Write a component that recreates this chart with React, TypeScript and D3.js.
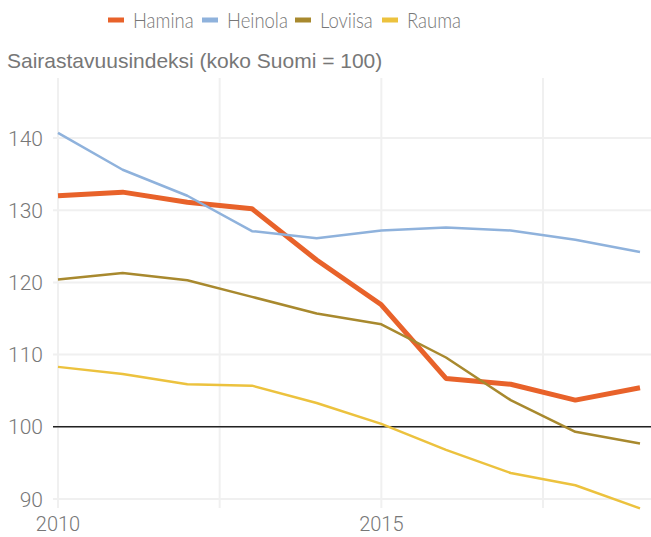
import React from "react";
import * as d3 from "d3";

const years = [2010, 2011, 2012, 2013, 2014, 2015, 2016, 2017, 2018, 2019];
const hamina = [132.0, 132.5, 131.1, 130.2, 123.1, 116.9, 106.7, 105.9, 103.7, 105.4];
const heinola = [140.7, 135.6, 132.0, 127.1, 126.1, 127.2, 127.6, 127.2, 125.9, 124.2];
const loviisa = [120.4, 121.3, 120.3, 118.0, 115.7, 114.2, 109.6, 103.7, 99.3, 97.7];
const rauma = [108.3, 107.3, 105.9, 105.7, 103.3, 100.4, 96.8, 93.6, 91.9, 88.7];
const seriesNames = ["Hamina", "Heinola", "Loviisa", "Rauma"];
const yTicks = [90, 100, 110, 120, 130, 140];
const xTicks = [2010, 2015];
const xGrid = [2010, 2012.5, 2015, 2017.5];
const title = "Sairastavuusindeksi (koko Suomi = 100)";

const colors = ["#e8622a", "#8fb2dc", "#a8892e", "#ecc23e"];
const widths = [5, 2.5, 2.5, 2.5];

export default function App() {
  const W = 651, H = 537;
  const x = d3.scaleLinear().domain([2010, 2017.5]).range([58, 543]);
  const y = d3.scaleLinear().domain([90, 140]).range([499, 138]);
  const data = [hamina, heinola, loviisa, rauma];
  const line = d3.line<number>().x((_, i) => x(years[i])).y((d) => y(d));
  const legendX = [108, 202, 295, 382];
  const legendFont = "Lato, sans-serif";
  const tickFont = "Roboto, sans-serif";
  return (
    <svg width={W} height={H} style={{ position: "absolute", left: 0, top: 0 }}>
      <rect width={W} height={H} fill="#fff" />
      {xGrid.map((g) => (
        <line key={g} x1={x(g)} x2={x(g)} y1={78} y2={508} stroke="#f0f0f0" strokeWidth={2} />
      ))}
      {yTicks.map((t) => (
        <line key={t} x1={53} x2={W} y1={y(t)} y2={y(t)} stroke="#f0f0f0" strokeWidth={2} />
      ))}
      <line x1={53} x2={W} y1={y(100)} y2={y(100)} stroke="#222" strokeWidth={1.5} />
      {yTicks.map((t) => (
        <text key={t} x={43} y={y(t)} dy="0.36em" textAnchor="end" fontFamily={tickFont} fontWeight={300} fontSize={21} fill="#777">
          {t}
        </text>
      ))}
      {xTicks.map((t) => (
        <text key={t} x={x(t)} y={531} textAnchor="middle" fontFamily={tickFont} fontWeight={300} fontSize={20} fill="#777">
          {t}
        </text>
      ))}
      <text x={7} y={68} fontFamily="'Liberation Sans', Arial, sans-serif" fontSize={21} fill="#777">
        {title}
      </text>
      {data.map((d, i) => (
        <path key={i} d={line(d) || ""} fill="none" stroke={colors[i]} strokeWidth={widths[i]} strokeLinejoin="round" />
      ))}
      {seriesNames.map((n, i) => (
        <g key={n} transform={`translate(${legendX[i]},20)`}>
          <rect x={0} y={-2.5} width={16} height={5} fill={colors[i]} />
          <text transform="translate(25,0) scale(0.88,1)" dy="0.36em" fontFamily={legendFont} fontWeight={300} fontSize={21} fill="#777">
            {n}
          </text>
        </g>
      ))}
    </svg>
  );
}
